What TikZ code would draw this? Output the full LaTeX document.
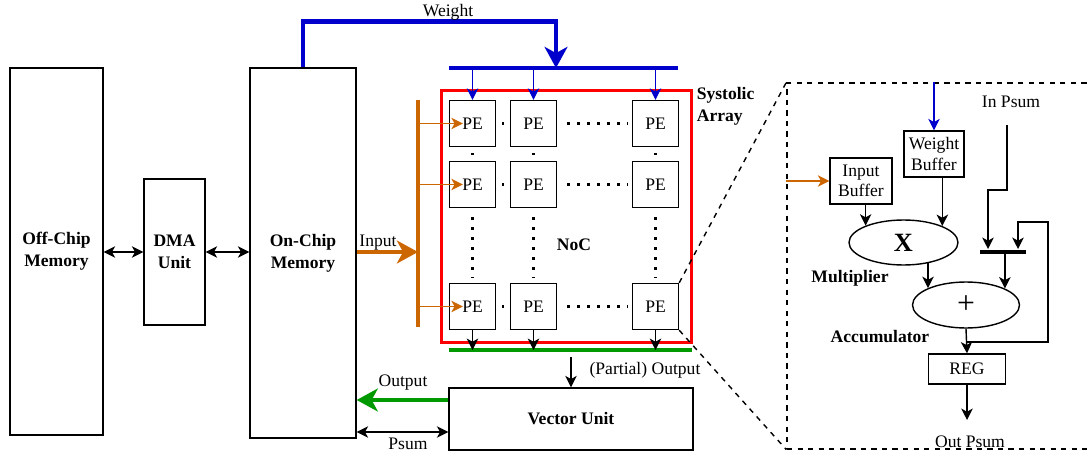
\documentclass[tikz,border=0pt]{standalone}
\usepackage{fontspec}
\setmainfont{Liberation Serif}
\usepackage{tikz}
\usetikzlibrary{arrows.meta,positioning,calc,shapes.geometric}

\definecolor{wblue}{HTML}{0000CC}
\definecolor{iorange}{HTML}{CC6600}
\definecolor{ogreen}{HTML}{009900}

\begin{document}
\begin{tikzpicture}[
    x=0.02cm, y=-0.02cm,
    font=\fontsize{10}{11.5}\selectfont,
    box/.style={draw=black, line width=0.8pt, align=center, inner sep=1pt},
    mem/.style={box, font=\fontsize{10}{12.5}\selectfont\bfseries},
    pe/.style={box, minimum width=0.92cm, minimum height=0.92cm},
    unit/.style={draw=black, line width=0.8pt, ellipse, inner sep=0pt},
    lbl/.style={font=\fontsize{10}{12.5}\selectfont\bfseries, inner sep=0pt},
    arr/.style={-{Stealth[length=6.5pt, width=6.5pt, inset=1.8pt]}, line width=0.8pt},
    dbl/.style={{Stealth[length=6.5pt, width=6.5pt, inset=1.8pt]}-{Stealth[length=6.5pt, width=6.5pt, inset=1.8pt]}, line width=0.8pt},
    big/.style={-{Stealth[length=12pt, width=13pt, inset=3.5pt]}, line width=2.6pt},
    bus/.style={line width=2.8pt},
    dotline/.style={line width=1.7pt, dash pattern=on 1.7pt off 4pt},
    sq/.style={fill=black, minimum size=1.7pt, inner sep=0pt},
]
\useasboundingbox (0,0) rectangle (1092,456);

% --- memories and DMA ---
\node[mem, minimum width=1.86cm, minimum height=7.34cm] (offchip) at (56.5,251.5) {Off-Chip\\Memory};
\node[mem, minimum width=1.22cm, minimum height=2.92cm] (dma) at (174.5,252) {DMA\\Unit};
\node[mem, minimum width=2.12cm, minimum height=7.4cm] (onchip) at (303,253) {On-Chip\\Memory};
\draw[dbl] (dma.west -| offchip.east) -- (dma.west);
\draw[dbl] (dma.east) -- (dma.east -| onchip.west);

% --- systolic array ---
\node[draw=red, line width=1.7pt, minimum width=5.02cm, minimum height=5.06cm] (sa) at (566.5,216.5) {};
\node[lbl, anchor=north west, align=left] (salbl) at ([xshift=0.06cm, yshift=0.03cm]sa.north east) {Systolic\\Array};
\node[lbl] (noc) at (574,245) {NoC};

\foreach \c/\x in {1/472.5,2/533.5,3/655.5}
  \foreach \r/\y in {1/123.5,2/184.5,3/306.5}
    \node[pe] (pe\r\c) at (\x,\y) {PE};

% dots between PEs
\foreach \r in {1,2,3}{
  \node[sq] at ($(pe\r1.east)!0.5!(pe\r2.west)$) {};
  \draw[dotline] ([xshift=0.2cm]pe\r2.east) -- ([xshift=-0.08cm]pe\r3.west);
}
\foreach \c in {1,2,3}{
  \node[sq] at ($(pe1\c.south)!0.5!(pe2\c.north)$) {};
  \draw[dotline] ([yshift=-0.18cm]pe2\c.south) -- ([yshift=0.1cm]pe3\c.north);
}

% --- weight bus ---
\coordinate (wbL) at (449,68);
\coordinate (wbR) at (678,68);
\coordinate (wtap) at (556,68);
\draw[bus, wblue] (wbL) -- (wbR);
\draw[big, wblue] (onchip.north) -- ++(0,-46) -| (wtap);
\node (wlbl) at (448,12) {Weight};
\foreach \c in {1,2,3}
  \draw[arr, wblue] (pe1\c.north |- wbL) -- (pe1\c.north);

% --- input bus ---
\coordinate (ibT) at (418,100);
\coordinate (ibB) at (418,327);
\draw[bus, iorange] (ibT) -- (ibB);
\draw[big, iorange] (onchip.east |- 0,252) -- (ibT |- 0,252);
\node (inlbl) at (378,243) {Input};
\foreach \r in {1,2,3}
  \draw[arr, iorange] (ibT |- pe\r1.west) -- ([xshift=0.28cm]pe\r1.west);

% --- output bus ---
\coordinate (gbL) at (449,350);
\coordinate (gbR) at (692,350);
\draw[line width=2.3pt, ogreen] (gbL) -- (gbR);
\foreach \c in {1,2,3}
  \draw[arr] (pe3\c.south) -- (pe3\c.south |- gbL);

% --- vector unit ---
\node[mem, minimum width=4.88cm, minimum height=1.24cm] (vu) at (571,419) {Vector Unit};
\coordinate (pout) at (571,357);
\draw[arr] (pout) -- (vu.north);
\node (plbl) at (645,370) {(Partial) Output};
\draw[big, ogreen] (vu.west |- 0,400) -- (onchip.east |- 0,400);
\node (olbl) at (403,383) {Output};
\draw[dbl] (onchip.east |- 0,432) -- (vu.west |- 0,432);
\node (pslbl) at (408,444) {Psum};

% --- PE detail ---
\node[draw, dashed, line width=0.8pt, minimum width=6.4cm, minimum height=7.32cm] (zoom) at (947,266) {};
\draw[dashed, line width=0.8pt] (pe33.north east) -- (zoom.north west);
\draw[dashed, line width=0.8pt] (pe33.south east) -- (zoom.south west);

\node[box, minimum width=1.24cm, minimum height=0.92cm] (inbuf) at (861,181) {Input\\Buffer};
\node[box, minimum width=1.2cm, minimum height=0.92cm] (wbuf) at (934,154) {Weight\\Buffer};
\node[unit, minimum width=2.18cm, minimum height=0.9cm, font=\fontsize{15}{15}\selectfont\bfseries] (mul) at (903.5,242.5) {X};
\node[unit, minimum width=2.14cm, minimum height=0.92cm, font=\fontsize{18}{18}\selectfont] (add) at (966,305) {+};
\node[box, minimum width=1.54cm, minimum height=0.6cm] (reg) at (967,369) {REG};
\node[lbl] (mullbl) at (850,278) {Multiplier};
\node[lbl] (acclbl) at (880,337) {Accumulator};
\node (inpsum) at (1011,102) {In Psum};
\node (outpsum) at (970,442) {Out Psum};

\draw[arr, wblue] (wbuf.north |- zoom.north) -- (wbuf.north);
\draw[arr, iorange] (inbuf.west -| zoom.west) -- (inbuf.west);
\draw[arr] (mul.156 |- inbuf.south) -- (mul.156);
\draw[arr] (mul.23 |- wbuf.south) -- (mul.23);
\draw[arr] (add.156 |- mul.-41) -- (add.156);

% psum select bar
\coordinate (barL) at (980,252);
\coordinate (barR) at (1026,252);
\draw[line width=2.3pt] (barL) -- (barR);
\coordinate (psin) at (1007,125);
\draw[arr] (psin) |- (988,190) -- (988,249);
\coordinate (fbjoin) at (967,342);
\coordinate (fbtop) at (1048,222);
\draw[arr] (fbjoin) -| (fbtop) -| (1018,249);
\draw[arr] (add.23 |- barL) -- (add.23);
\draw[arr] (add.south) -- (reg.north);
\draw[arr] (reg.south) -- (reg.south |- 0,420);

\end{tikzpicture}
\end{document}
